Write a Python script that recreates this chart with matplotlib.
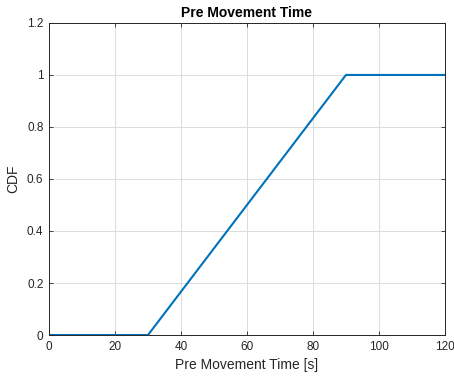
import numpy as np
from matplotlib import pyplot as plt

plt.rcParams['font.family'] = ['Liberation Sans', 'DejaVu Sans']

# uniform pre-movement time distribution, 30s..90s
t = [0, 30, 90, 120]
cdf = [0, 0, 1, 1]
xticks = [0, 20, 40, 60, 80, 100, 120]
yticks = [0, 0.2, 0.4, 0.6, 0.8, 1, 1.2]

fig = plt.figure(figsize=(4.54, 3.76), dpi=100)
ax = fig.add_axes([0.108, 0.109, 0.872, 0.830])
ax.plot(t, cdf, color='#0072BD', linewidth=1.5)
ax.set_xlim(0, 120)
ax.set_ylim(0, 1.2)
ax.set_xticks(xticks)
ax.set_xticklabels([str(x) for x in xticks])
ax.set_yticks(yticks)
ax.set_yticklabels(['0', '0.2', '0.4', '0.6', '0.8', '1', '1.2'])
ax.grid(True, color='#dcdcdc', linewidth=0.7)
ax.set_axisbelow(True)
ax.tick_params(direction='in', top=True, right=True, labelsize=8.5,
               colors='#262626', length=3, width=0.6, pad=4)
for sp in ax.spines.values():
    sp.set_color('#262626')
    sp.set_linewidth(0.7)
ax.set_xlabel('Pre Movement Time [s]', fontsize=10, color='#262626', labelpad=4)
ax.set_ylabel('CDF', fontsize=10, color='#262626', labelpad=5)
ax.set_title('Pre Movement Time', fontsize=10, fontweight='bold', pad=4)
fig.savefig('out.png', dpi=100)
